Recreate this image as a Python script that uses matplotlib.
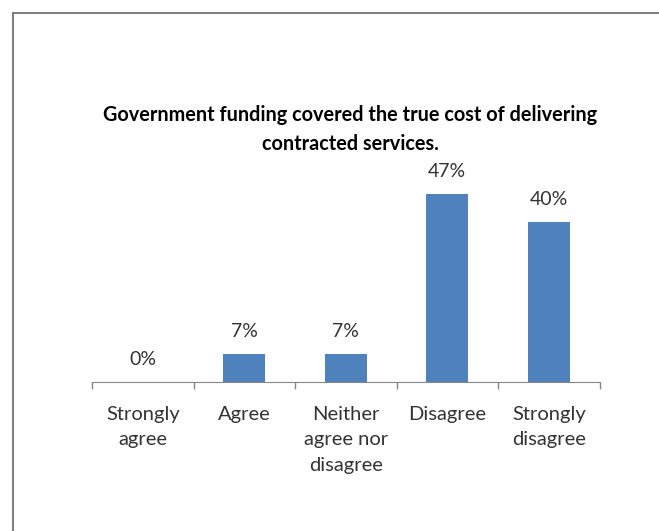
import matplotlib.pyplot as plt

categories = ['Strongly\nagree', 'Agree', 'Neither\nagree nor\ndisagree', 'Disagree', 'Strongly\ndisagree']
values = [0, 7, 7, 47, 40]
value_labels = ['0%', '7%', '7%', '47%', '40%']

BAR_COLOR = '#4F81BD'
TEXT_COLOR = '#333333'
FONT = 'Lato'

fig = plt.figure(figsize=(6.59, 5.31), dpi=100)

# outer frame (only top and left edges fall inside the image)
fig.add_artist(plt.Line2D([12.5 / 659, 12.5 / 659], [0, 1 - 12.5 / 531], color='#808080', lw=1.5))
fig.add_artist(plt.Line2D([12.5 / 659, 1], [1 - 12.5 / 531, 1 - 12.5 / 531], color='#808080', lw=1.5))

ax = fig.add_axes([92 / 659, (531 - 382) / 531, 507.5 / 659, 200 / 531])
x = range(len(categories))
ax.bar(x, values, width=0.41, color=BAR_COLOR, zorder=2)
ax.set_xlim(-0.5, len(categories) - 0.5)
ax.set_ylim(0, 50)

for xi, v, lab in zip(x, values, value_labels):
    ax.annotate(lab, (xi, v), xytext=(0, 16), textcoords='offset points',
                ha='center', va='center', fontsize=14, family=FONT, color=TEXT_COLOR)

for s in ['top', 'right', 'left']:
    ax.spines[s].set_visible(False)
ax.spines['bottom'].set_color('#868686')
ax.set_yticks([])
ax.set_xticks([i - 0.5 for i in range(len(categories) + 1)])
ax.set_xticklabels([])
ax.tick_params(axis='x', length=5, color='#868686', width=1)
ax.set_xticks(list(x), minor=True)
ax.set_xticklabels(categories, minor=True, fontsize=14.5, family=FONT, color=TEXT_COLOR,
                   linespacing=1.62)
ax.tick_params(axis='x', which='minor', length=0, pad=17)

fig.text(350 / 659, 1 - 129.5 / 531, 'Government funding covered the true cost of delivering\ncontracted services.',
         ha='center', va='center', fontsize=14.3, fontweight='bold', family=FONT,
         color='black', linespacing=1.6)

fig.savefig('out.png', dpi=100)
